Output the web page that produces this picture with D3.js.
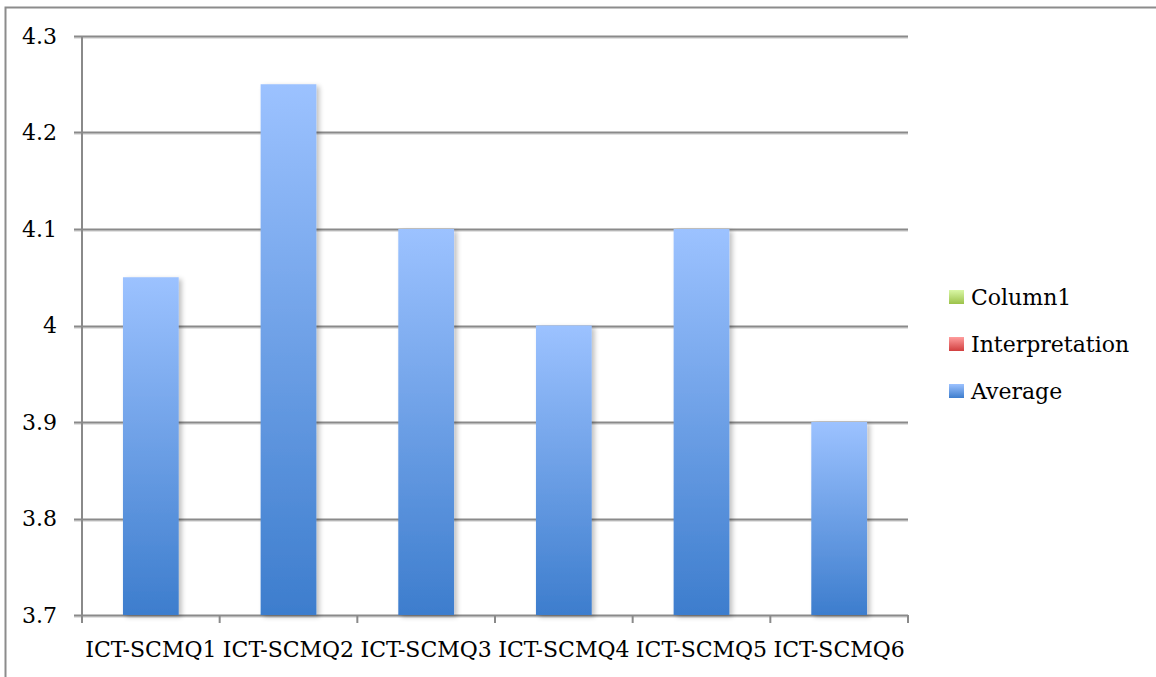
<!DOCTYPE html>
<html>
<head>
<meta charset="utf-8">
<script src="https://cdn.jsdelivr.net/npm/d3@7"></script>
<style>
  html, body { margin: 0; padding: 0; background: #fff; }
  svg { display: block; }
  text { font-family: "DejaVu Serif", "Liberation Serif", serif; fill: #000; }
</style>
</head>
<body>
<svg id="chart" width="1156" height="677"></svg>
<script>
// Survey items and their average scores
const categories = ["ICT-SCMQ1", "ICT-SCMQ2", "ICT-SCMQ3", "ICT-SCMQ4", "ICT-SCMQ5", "ICT-SCMQ6"];
const averageValues = [4.05, 4.25, 4.1, 4.0, 4.1, 3.9];
const yTicks = [3.7, 3.8, 3.9, 4.0, 4.1, 4.2, 4.3];
const yTickLabels = ["3.7", "3.8", "3.9", "4", "4.1", "4.2", "4.3"];
const legendNames = ["Column1", "Interpretation", "Average"];
const legendColors = [
  ["#d9f7a6", "#9cc24a"],
  ["#ff9d9d", "#d13f3f"],
  ["#9cc2ff", "#3d7dcd"]
];

const svg = d3.select("#chart");
const W = 1156, H = 677;
const plot = { left: 82, right: 908, top: 36, bottom: 615 };
const fontSize = 22;

const x = d3.scaleBand().domain(categories).range([plot.left, plot.right]).paddingInner(0).paddingOuter(0);
const y = d3.scaleLinear().domain([3.7, 4.3]).range([plot.bottom, plot.top]);
const barWidth = x.bandwidth() * 0.405;

const defs = svg.append("defs");
legendColors.forEach((c, i) => {
  const g = defs.append("linearGradient").attr("id", "grad" + i)
    .attr("x1", 0).attr("y1", 0).attr("x2", 0).attr("y2", 1);
  g.append("stop").attr("offset", "0%").attr("stop-color", c[0]);
  g.append("stop").attr("offset", "100%").attr("stop-color", c[1]);
});

const shadow = defs.append("filter").attr("id", "shadow")
  .attr("x", "-20%").attr("y", "-5%").attr("width", "150%").attr("height", "115%");
shadow.append("feGaussianBlur").attr("in", "SourceAlpha").attr("stdDeviation", 2.5).attr("result", "b");
shadow.append("feOffset").attr("in", "b").attr("dx", 3).attr("dy", 2).attr("result", "o");
shadow.append("feComponentTransfer").attr("in", "o").attr("result", "s")
  .append("feFuncA").attr("type", "linear").attr("slope", 0.25);
const merge = shadow.append("feMerge");
merge.append("feMergeNode").attr("in", "s");
merge.append("feMergeNode").attr("in", "SourceGraphic");

// outer frame (left and top edges)
svg.append("path")
  .attr("d", `M5.5,${H} V7.5 H${W}`)
  .attr("fill", "none").attr("stroke", "#8c8c8c").attr("stroke-width", 2);

// horizontal gridlines with tick stubs to the left
const grid = svg.append("g");
yTicks.forEach(t => {
  const yy = Math.round(y(t)) + 0.5;
  grid.append("line").attr("x1", plot.left - 8).attr("x2", plot.right)
    .attr("y1", yy + 1.5).attr("y2", yy + 1.5)
    .attr("stroke", "#d8d8d8").attr("stroke-width", 1.5);
  grid.append("line").attr("x1", plot.left - 8).attr("x2", plot.right)
    .attr("y1", yy).attr("y2", yy)
    .attr("stroke", "#8a8a8a").attr("stroke-width", 2);
});

// y axis line
svg.append("line").attr("x1", plot.left).attr("x2", plot.left)
  .attr("y1", plot.top).attr("y2", plot.bottom + 8)
  .attr("stroke", "#8a8a8a").attr("stroke-width", 2);

// x axis ticks between categories
const xEdges = categories.map(c => x(c)).concat([plot.right]);
xEdges.forEach(e => {
  svg.append("line").attr("x1", e).attr("x2", e)
    .attr("y1", plot.bottom).attr("y2", plot.bottom + 8)
    .attr("stroke", "#8a8a8a").attr("stroke-width", 2);
});

// bars, each shaded light at its top to dark at its base
svg.append("g").selectAll("rect").data(averageValues).join("rect")
  .attr("x", (d, i) => x(categories[i]) + (x.bandwidth() - barWidth) / 2)
  .attr("y", d => y(d))
  .attr("width", barWidth)
  .attr("height", d => plot.bottom - y(d))
  .attr("fill", "url(#grad2)")
  .attr("filter", "url(#shadow)");

// y tick labels
svg.append("g").selectAll("text").data(yTicks).join("text")
  .attr("x", 57)
  .attr("y", d => y(d))
  .attr("dy", "0.35em")
  .attr("text-anchor", "end")
  .attr("font-size", fontSize)
  .text((d, i) => yTickLabels[i]);

// x category labels
svg.append("g").selectAll("text").data(categories).join("text")
  .attr("x", d => x(d) + x.bandwidth() / 2)
  .attr("y", 657)
  .attr("text-anchor", "middle")
  .attr("font-size", fontSize)
  .text(d => d);

// legend
const legend = svg.append("g");
legendNames.forEach((name, i) => {
  const cy = 297 + i * 47;
  legend.append("rect").attr("x", 949).attr("y", cy - 7).attr("width", 15).attr("height", 14)
    .attr("fill", `url(#grad${i})`);
  legend.append("text").attr("x", 971).attr("y", cy).attr("dy", "0.35em")
    .attr("font-size", fontSize).text(name);
});
</script>
</body>
</html>
